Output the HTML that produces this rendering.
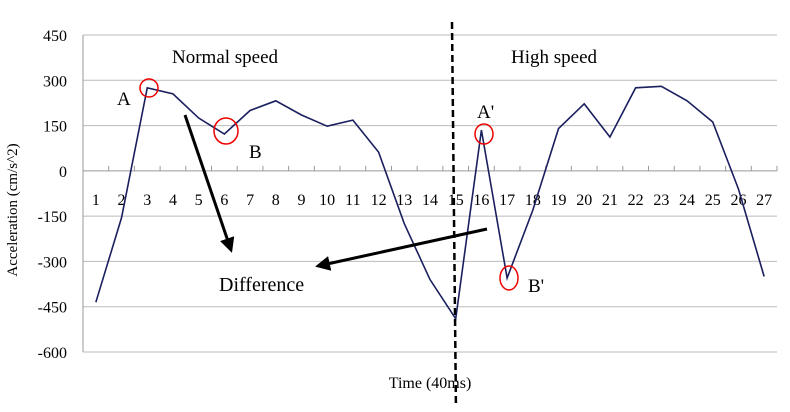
<!DOCTYPE html>
<html><head><meta charset="utf-8"><style>
body{margin:0;background:#fff;width:790px;height:407px;overflow:hidden}
svg text{font-family:"Liberation Serif",serif}
</style></head><body>
<svg id="chart" width="790" height="407" viewBox="0 0 790 407"></svg>
<script>
const categories=[1,2,3,4,5,6,7,8,9,10,11,12,13,14,15,16,17,18,19,20,21,22,23,24,25,26,27];
const values=[-435,-155,275,255,175,122,200,232,185,148,168,62,-175,-360,-490,135,-355,-130,140,222,112,275,280,232,162,-60,-350];
const yTicks=[450,300,150,0,-150,-300,-450,-600];
const NS='http://www.w3.org/2000/svg';
const svg=document.getElementById('chart');
const L=83,R=777,T=35,B=352,yMin=-600,yMax=450;
const y=v=>T+(yMax-v)/(yMax-yMin)*(B-T);
const step=(R-L)/categories.length;
const x=i=>L+step*(i+0.5);
function el(t,a,txt){const e=document.createElementNS(NS,t);for(const k in a)e.setAttribute(k,a[k]);if(txt!==undefined)e.textContent=txt;svg.appendChild(e);return e;}
yTicks.forEach(v=>{
 const g=el('line',{x1:L,x2:R,y1:y(v),y2:y(v),stroke:v===0?'#999':'#bbb','stroke-width':1});
 
 
 const t=el('text',{x:L-16,y:y(v)+6,'text-anchor':'end','font-size':16},v);
 
 
});
el('line',{x1:L,x2:L,y1:T,y2:B,stroke:'#999'});
for(let i=0;i<=categories.length;i++){
 const tk=el('line',{x1:L+step*i,x2:L+step*i,y1:y(0)-5,y2:y(0),stroke:'#999'});
 
 
}
categories.forEach((c,i)=>{
 const t=el('text',{x:x(i),y:y(0)+34,'text-anchor':'middle','font-size':16},c);
 
 
});
const line=el('polyline',{points:values.map((v,i)=>x(i)+','+y(v)).join(' '),fill:'none',stroke:'#1a1f5e','stroke-width':1.6});


</script>
<svg style="position:absolute;left:0;top:0" width="790" height="407">
<defs><marker id="ah" markerWidth="5" markerHeight="5" refX="4" refY="2.5" orient="auto"><path d="M0,0 L5,2.5 L0,5 z" fill="#000"/></marker></defs>
<text x="17" y="210" transform="rotate(-90 17 210)" text-anchor="middle" font-size="15" font-family="Liberation Serif,serif">Acceleration (cm/s^2)</text>
<text x="430" y="388" text-anchor="middle" font-size="16" font-family="Liberation Serif,serif">Time (40ms)</text>
<line x1="452" y1="22" x2="456" y2="412" stroke="#000" stroke-width="2.5" stroke-dasharray="7,4"/>
<g font-family="Liberation Serif,serif" font-size="19">
<text x="172" y="63">Normal speed</text>
<text x="511" y="63">High speed</text>
<text x="117" y="105">A</text>
<text x="249" y="158">B</text>
<text x="477" y="118">A'</text>
<text x="528" y="292">B'</text>
<text x="219" y="291" font-size="20">Difference</text>
</g>
<g fill="none" stroke="#e00" stroke-width="1.5">
<ellipse cx="149" cy="88" rx="9" ry="9"/>
<ellipse cx="226" cy="131" rx="12" ry="13"/>
<ellipse cx="484" cy="134" rx="9" ry="10"/>
<ellipse cx="509" cy="278" rx="9" ry="12"/>
</g>
<line x1="185" y1="115" x2="231" y2="250" stroke="#000" stroke-width="3" marker-end="url(#ah)"/>
<line x1="487" y1="229" x2="318" y2="266" stroke="#000" stroke-width="3" marker-end="url(#ah)"/>
</svg>
</body></html>
